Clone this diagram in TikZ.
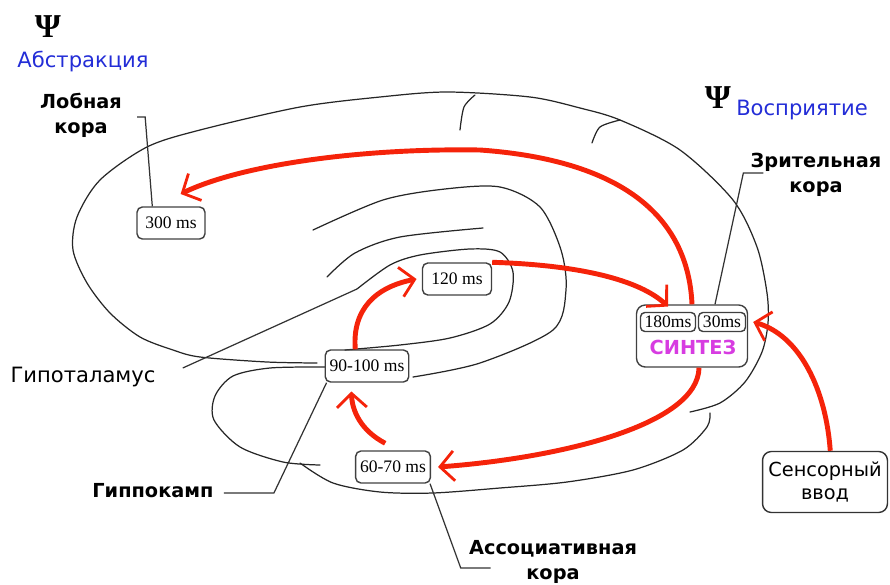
\documentclass[tikz,border=0pt]{standalone}
\usepackage{fontspec}
\setmainfont{DejaVu Sans}
\newfontfamily\timesf{Liberation Serif}
\usetikzlibrary{arrows.meta}
\definecolor{flowred}{RGB}{245,35,10}
\definecolor{psiblue}{RGB}{35,45,215}
\definecolor{synthpink}{RGB}{215,60,225}

\begin{document}
\begin{tikzpicture}[
    x=0.02cm, y=-0.02cm,
    brain/.style={line width=0.7pt, black!85, line cap=round},
    lead/.style={line width=0.7pt, black!80},
    tbox/.style={draw=black!75, line width=0.8pt, rounded corners=3pt,
        font=\timesf\fontsize{10}{11}\selectfont, inner xsep=2.5pt, inner ysep=0pt,
        minimum height=0.64cm},
    ibox/.style={tbox, rounded corners=2.5pt, inner xsep=1.5pt, minimum height=0.38cm},
    lbl/.style={align=center, inner sep=0pt, font=\fontsize{11}{14.2}\selectfont\bfseries},
    psi/.style={inner sep=0pt, font=\timesf\bfseries\fontsize{19}{19}\selectfont},
    flow/.style={->, flowred, line width=2.8pt},
    >={Straight Barb[length=8pt, width=17pt, line width=1.6pt]}
]
\useasboundingbox (0,0) rectangle (890,585);

% brain outline
\draw[brain] plot[smooth] coordinates {(317,363) (267,362) (200,357) (173,350)
    (140,337) (110,313) (87,283) (73,250) (77,217) (100,180) (147,147) (200,130)
    (300,107) (380,97) (447,92) (530,97) (580,108) (620,120) (680,150) (733,200)
    (757,247) (767,293) (768,323) (762,352) (745,382) (720,403) (690,412)};
\draw[brain] plot[smooth] coordinates {(710,413) (707,427) (683,450) (633,470)
    (567,482) (500,488) (433,493) (380,492) (333,483) (300,463)};
% sulci on top
\draw[brain] plot[smooth] coordinates {(460,130) (464,107) (475,95)};
\draw[brain] plot[smooth] coordinates {(592,143) (600,127) (620,120)};
% inner folds
\draw[brain] plot[smooth] coordinates {(313,230) (383,200) (445,189) (500,187)
    (540,207) (561,250) (566,290) (553,330) (480,363) (413,377)};
\draw[brain] plot[smooth] coordinates {(327,277) (355,253) (400,237) (483,228)};
\coordinate (hypend) at (357,289);
\draw[brain] plot[smooth] coordinates {(hypend) (390,265) (420,255) (470,249)
    (500,252) (513,272) (509,302) (490,324) (450,338) (400,345) (345,350)};
% hippocampus
\draw[brain] plot[smooth] coordinates {(325,367) (270,368) (233,376) (215,396)
    (214,420) (240,447) (283,462) (320,465)};

% timing boxes
\node[tbox, minimum width=1.36cm] (t300) at (171,223) {300 ms};
\node[tbox, minimum width=1.38cm] (t120) at (457,279) {120 ms};
\node[tbox] (t90) at (367,366) {90-100 ms};
\node[tbox] (t60) at (393,467) {60-70 ms};

\node[draw=black!75, line width=0.8pt, rounded corners=5pt, minimum width=2.22cm,
    minimum height=1.24cm] (synth) at (692,336) {};
\node[ibox, minimum width=1.1cm] (t180) at (668,322) {180ms};
\node[ibox, minimum width=0.94cm] (t30) at (722,322) {30ms};
\node[synthpink, inner sep=0pt, font=\fontsize{11}{12}\selectfont\bfseries] (syn)
    at (693,347) {СИНТЕЗ};

\node[draw=black!80, line width=0.8pt, rounded corners=5pt, minimum width=2.48cm,
    minimum height=1.22cm, align=center, font=\fontsize{11}{13.5}\selectfont]
    (sens) at (825,482) {Сенсорный\\ввод};

% labels
\node[psi] (psiA) at (48,27) {Ψ};
\node[psiblue, inner sep=0pt, font=\fontsize{12}{14}\selectfont] (abstr) at (83,62) {Абстракция};
\node[psi] (psiB) at (718,98) {Ψ};
\node[psiblue, inner sep=0pt, font=\fontsize{12}{14}\selectfont] (vospr) at (802,110) {Восприятие};
\node[lbl] (lob) at (81,115) {Лобная\\кора};
\node[lbl] (zr) at (816,175) {Зрительная\\кора};
\node[lbl] (assoc) at (553,562) {Ассоциативная\\кора};
\node[lbl] (hip) at (153,491) {Гиппокамп};
\node[inner sep=0pt, font=\fontsize{12}{14}\selectfont] (hyp) at (83,377) {Гипоталамус};

% leaders
\draw[lead] ([shift={(15,2)}]lob.east) -- ++(8,0) -- ([shift={(16,0)}]t300.north west);
\draw[lead] ([shift={(13,-2)}]zr.west) -- ++(-20,0) -- ([shift={(23,0)}]synth.north);
\draw[lead] ([shift={(27,-9)}]hyp.east) -- (hypend);
\draw[lead] ([shift={(10,2)}]hip.east) -- ++(50,0) -- ([shift={(2,0)}]t90.south west);
\draw[lead] ([shift={(-1,0)}]t60.south east) -- ([shift={(-8,6)}]assoc.west)
    -- ([shift={(22,6)}]assoc.west);

% signal flow
\draw[flow] (synth.north) .. controls (688,215) and (620,160) .. (480,150)
    .. controls (360,148) and (240,165) .. ([yshift=7pt]t300.60);
\draw[flow] (t120.north east) .. controls (580,265) and (640,280) .. ([yshift=3pt]t180.north);
\draw[flow] (t90.125) .. controls (352,310) and (375,287) .. ([xshift=-3pt]t120.west);
\draw[flow] ([yshift=4pt]t60.115) .. controls (360,430) and (352,410) .. ([yshift=-5pt]t90.227);
\draw[flow] ([xshift=4pt]synth.south) .. controls (698,425) and (560,458) .. ([xshift=4pt]t60.east);
\draw[flow] ([xshift=3pt]sens.north) .. controls (826,390) and (800,335) .. ([xshift=4pt]t30.east);
\end{tikzpicture}
\end{document}
